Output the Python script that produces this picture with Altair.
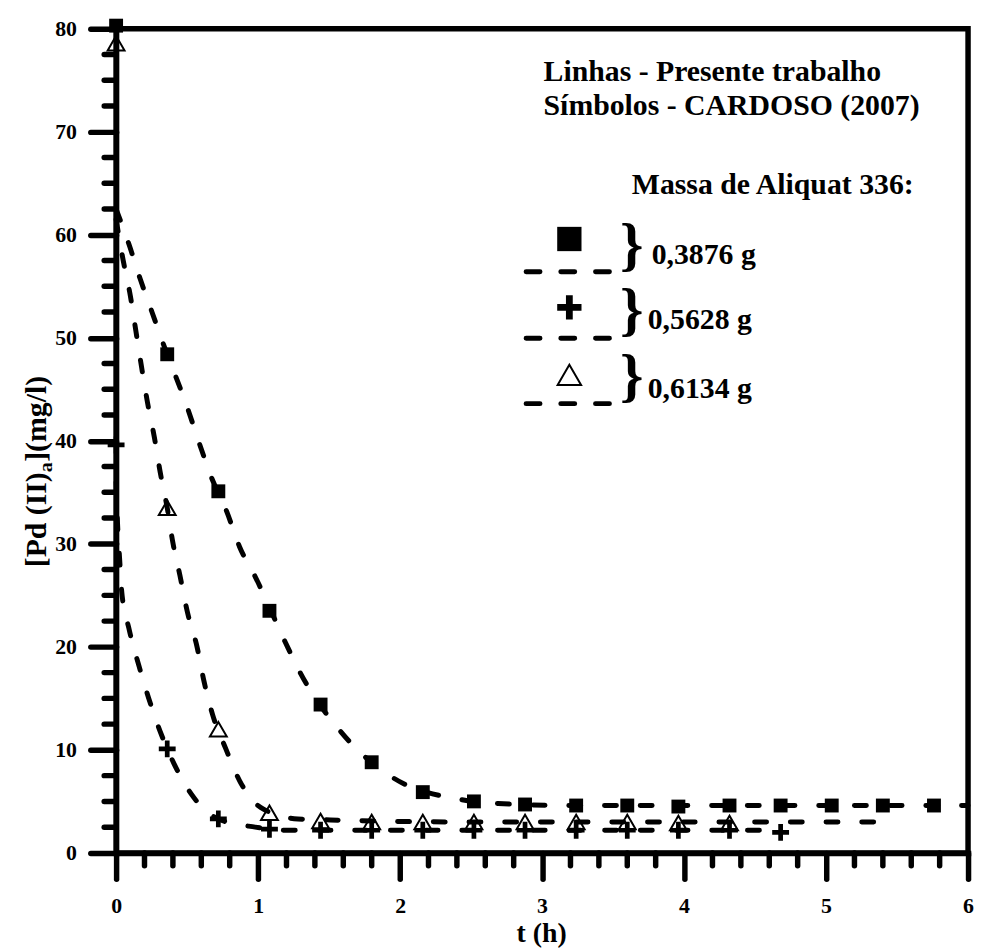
import altair as alt
import pandas as pd

# ---------------- data ----------------
t_obs = [0, 0.36, 0.72, 1.08, 1.44, 1.8, 2.16, 2.52, 2.88, 3.24, 3.6, 3.96, 4.32, 4.68, 5.04, 5.4, 5.76]
sq_obs = [80.3, 48.4, 35.1, 23.5, 14.4, 8.8, 5.9, 5.0, 4.7, 4.6, 4.6, 4.5, 4.6, 4.6, 4.6, 4.6, 4.6]
plus_obs = [39.6, 10.1, 3.3, 2.3, 2.2, 2.2, 2.2, 2.2, 2.2, 2.2, 2.2, 2.2, 2.2, 2.0]
tri_obs = [78.6, 33.5, 12.0, 3.9, 3.1, 3.0, 3.0, 3.0, 3.0, 3.0, 3.0, 2.9, 2.9]

sq_line_t = [0, 0.09, 0.17, 0.25, 0.33, 0.51, 0.59, 0.67, 0.78, 0.87, 0.98, 1.19, 1.30, 1.58, 1.95, 2.42, 2.69, 3.2, 4.0, 5.0, 6.0]
sq_line_v = [62.5, 59.1, 55.7, 52.6, 49.5, 42.9, 39.6, 36.5, 33.1, 29.7, 26.8, 20.5, 17.4, 11.8, 7.3, 5.2, 4.8, 4.6, 4.6, 4.6, 4.6]

tri_line_t = [0, 0.05, 0.10, 0.14, 0.18, 0.22, 0.27, 0.31, 0.36, 0.40, 0.45, 0.50, 0.57, 0.62, 0.68, 0.77, 0.87, 1.02, 1.28, 1.51, 2.5, 3.5, 4.5, 5.35]
tri_line_v = [61.5, 57.5, 54.1, 50.6, 47.1, 43.8, 40.3, 37.0, 33.5, 30.1, 26.9, 23.5, 20.0, 16.6, 13.4, 10.2, 7.0, 4.4, 3.3, 3.2, 3.0, 3.0, 3.0, 3.0]

plus_line_t = [0, 0.01, 0.025, 0.04, 0.09, 0.16, 0.23, 0.31, 0.36, 0.41, 0.53, 0.72, 0.98, 1.21, 2.5, 3.5, 4.55]
plus_line_v = [36.0, 32.0, 28.5, 25.3, 21.8, 18.2, 15.0, 11.8, 10.1, 8.6, 5.7, 3.3, 2.5, 2.2, 2.2, 2.2, 2.2]

x_major = [0, 1, 2, 3, 4, 5, 6]
x_minor = [0.2, 0.4, 0.6, 0.8, 1.2, 1.4, 1.6, 1.8, 2.2, 2.4, 2.6, 2.8, 3.2, 3.4, 3.6, 3.8,
           4.2, 4.4, 4.6, 4.8, 5.2, 5.4, 5.6, 5.8]
y_major = [0, 10, 20, 30, 40, 50, 60, 70, 80]
y_minor = [2.5, 5, 7.5, 12.5, 15, 17.5, 22.5, 25, 27.5, 32.5, 35, 37.5, 42.5, 45, 47.5,
           52.5, 55, 57.5, 62.5, 65, 67.5, 72.5, 75, 77.5]

legend_labels = ["0,3876 g", "0,5628 g", "0,6134 g"]

# ---------------- layout constants ----------------
W, H = 859, 831
FONT = "Liberation Serif"
PLUS = "M-1,-0.28H-0.28V-1H0.28V-0.28H1V0.28H0.28V1H-0.28V0.28H-1Z"
LW = 5.5   # frame / tick width
DW = 5.0   # dashed line width
TF = 30    # text font size

xs = alt.Scale(domain=[0, 6], nice=False, zero=False)
ys = alt.Scale(domain=[0, 80], nice=False, zero=False)

common_axis = dict(format="d", tickSize=26, tickWidth=LW, tickCap="round",
                   domainWidth=LW, domainColor="black", domainCap="square", tickColor="black",
                   labelFont=FONT, labelFontWeight="bold", labelFontSize=22, labelColor="black",
                   labelFlush=False, labelOverlap=False, grid=False, title=None)
xaxis = alt.Axis(values=x_major, labelPadding=17, **common_axis)
yaxis = alt.Axis(values=y_major, labelPadding=14, **common_axis)

obs_sq = pd.DataFrame({"t": t_obs, "v": sq_obs})
obs_pl = pd.DataFrame({"t": t_obs[:len(plus_obs)], "v": plus_obs})
obs_tr = pd.DataFrame({"t": t_obs[:len(tri_obs)], "v": tri_obs})

ln_sq = pd.DataFrame({"t": sq_line_t, "v": sq_line_v})
ln_tr = pd.DataFrame({"t": tri_line_t, "v": tri_line_v})
ln_pl = pd.DataFrame({"t": plus_line_t, "v": plus_line_v})

X = alt.X("t:Q", scale=xs, axis=xaxis)
Y = alt.Y("v:Q", scale=ys, axis=yaxis)

layers = []

# minor ticks
layers.append(alt.Chart(pd.DataFrame({"t": x_minor})).mark_rule(
    color="black", strokeWidth=LW, strokeCap="round").encode(
    x=alt.X("t:Q", scale=xs), y=alt.value(H), y2=alt.value(H + 13)))
layers.append(alt.Chart(pd.DataFrame({"v": y_minor})).mark_rule(
    color="black", strokeWidth=LW, strokeCap="round").encode(
    y=alt.Y("v:Q", scale=ys), x=alt.value(0), x2=alt.value(-12)))

# observed points
layers.append(alt.Chart(obs_sq).mark_point(shape="square", filled=True, size=196,
                                           color="black", opacity=1).encode(x=X, y=Y))
layers.append(alt.Chart(obs_pl).mark_point(shape=PLUS, filled=True, size=289,
                                           color="black", opacity=1).encode(x=X, y=Y))
layers.append(alt.Chart(obs_tr).mark_point(shape="triangle-up", filled=False, size=289,
                                           strokeWidth=2, color="black", opacity=1).encode(x=X, y=Y))

# model lines
for d in (ln_sq, ln_tr, ln_pl):
    layers.append(alt.Chart(d).mark_line(color="black", strokeWidth=DW, strokeDash=[12, 24],
                                         strokeCap="round", interpolate="monotone").encode(x=X, y=Y))

one = pd.DataFrame({"a": [0]})
OX, OY = 117, 25  # pixel origin of the plot area in the page


def txt(s, px, py, size=TF, align="left", baseline="alphabetic", weight="bold", angle=0, dx=0, dy=0):
    return alt.Chart(one).mark_text(text=s, font=FONT, fontSize=size, fontWeight=weight,
                                    align=align, baseline=baseline, color="black",
                                    angle=angle, dx=dx, dy=dy).encode(
        x=alt.value(px - OX), y=alt.value(py - OY))


# header texts
layers.append(txt("Linhas - Presente trabalho", 548, 78))
layers.append(txt("Símbolos - CARDOSO (2007)", 548, 112))
layers.append(txt("Massa de Aliquat 336:", 637, 192))

# legend rows
mk_y = [237, 306, 374]
dash_y = [270, 337, 403]
brace_base = [262, 328, 394]
lab_x = [657, 653, 653]
lab_base = [262, 328, 397]

layers.append(alt.Chart(one).mark_point(shape="square", filled=True, size=600, color="black",
                                        opacity=1).encode(x=alt.value(574 - OX), y=alt.value(mk_y[0] - OY)))
layers.append(alt.Chart(one).mark_point(shape=PLUS, filled=True, size=600, color="black",
                                        opacity=1).encode(x=alt.value(574 - OX), y=alt.value(mk_y[1] - OY)))
layers.append(alt.Chart(one).mark_point(shape="triangle-up", filled=False, size=560, strokeWidth=2,
                                        color="black", opacity=1).encode(x=alt.value(574 - OX), y=alt.value(mk_y[2] - OY)))
for i in range(3):
    layers.append(alt.Chart(one).mark_rule(color="black", strokeWidth=DW, strokeDash=[14, 21],
                                           strokeCap="round").encode(
        x=alt.value(530.4 - OX), x2=alt.value(616 - OX), y=alt.value(dash_y[i] - OY)))
    layers.append(txt("}", 637, brace_base[i], size=60, align="center", weight="bold"))
    layers.append(txt(legend_labels[i], lab_x[i], lab_base[i]))

# axis titles
layers.append(txt("t (h)", 546, 946, size=28, align="center", baseline="alphabetic"))
YT_X, YT_Y = 46, 568
layers.append(txt("[Pd (II)", YT_X, YT_Y, size=TF, angle=270))
layers.append(txt("a", YT_X, YT_Y, size=20, angle=270, dx=3.194 * TF, dy=6))
layers.append(txt("](mg/l)", YT_X, YT_Y, size=TF, angle=270, dx=3.194 * TF + 10.5))

chart = alt.layer(*layers).properties(
    width=W, height=H,
    padding={"left": 109, "top": 17, "right": 6, "bottom": 96},
    autosize=alt.AutoSizeParams(type="none"),
    background="white",
).configure_view(stroke="black", strokeWidth=LW)

chart.save("out.html", embed_options={"renderer": "svg", "actions": False})
